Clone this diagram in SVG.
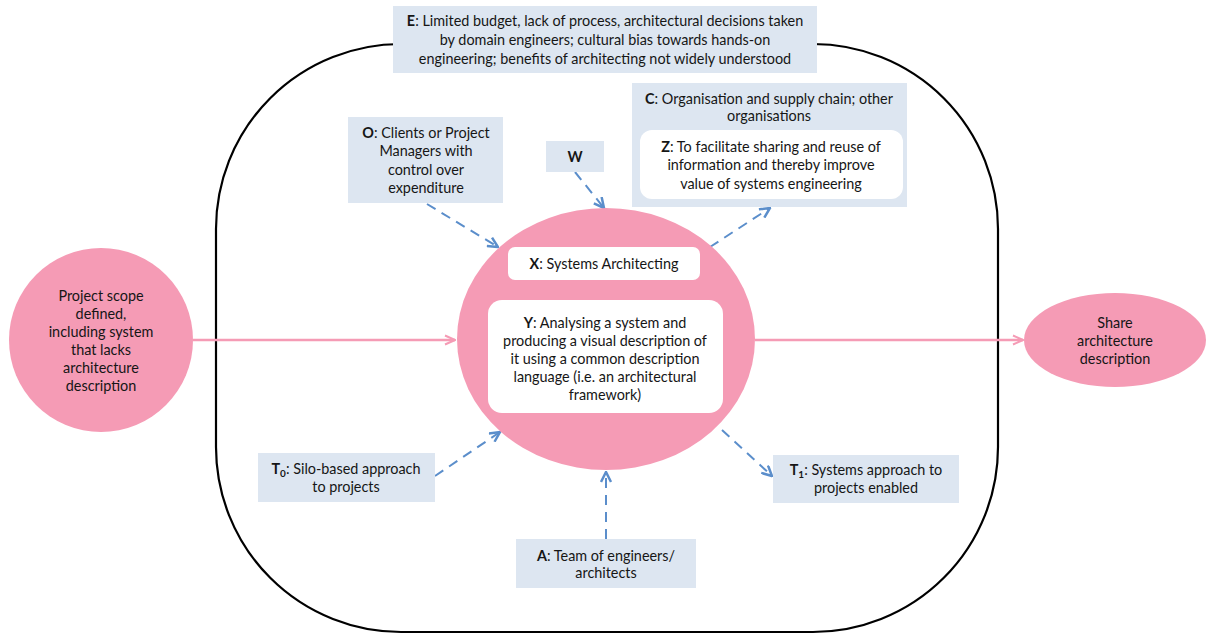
<svg xmlns="http://www.w3.org/2000/svg" width="1206" height="635" viewBox="0 0 1206 635">
  <defs>
    <style>
      text { font-family: Lato, "Open Sans", "Liberation Sans", sans-serif; font-size: 14.4px; fill: #161616; text-anchor: middle; }
      .b { font-weight: bold; }
      .box { fill: #DDE6F1; }
      .inner { fill: #FFFFFF; }
      .pink { fill: #F59BB5; }
      .dash { fill: none; stroke: #5B8ECB; stroke-width: 2; stroke-dasharray: 10 7; }
      .flow { fill: none; stroke: #F59BB5; stroke-width: 2.5; }
    </style>
    <marker id="blueHead" viewBox="0 0 12 12" refX="11" refY="6" markerWidth="12" markerHeight="12" markerUnits="userSpaceOnUse" orient="auto">
      <path d="M1,1 L11,6 L1,11" fill="none" stroke="#5B8ECB" stroke-width="2.5" stroke-linejoin="miter"/>
    </marker>
    <marker id="pinkHead" viewBox="0 0 12 12" refX="11" refY="6" markerWidth="12" markerHeight="12" markerUnits="userSpaceOnUse" orient="auto">
      <path d="M1,1.5 L11,6 L1,10.5" fill="none" stroke="#F59BB5" stroke-width="2"/>
    </marker>
  </defs>

  <rect width="1206" height="635" fill="#FFFFFF"/>

  <!-- system boundary -->
  <rect id="boundary" x="216" y="44" width="782" height="588" rx="185" ry="185" fill="none" stroke="#000000" stroke-width="2.2"/>

  <!-- connectors -->
  <g id="connectors">
    <line class="flow" x1="193" y1="340" x2="455" y2="340" marker-end="url(#pinkHead)"/>
    <line class="flow" x1="755" y1="340" x2="1023" y2="340" marker-end="url(#pinkHead)"/>
    <line class="dash" x1="427" y1="204" x2="498" y2="247" marker-end="url(#blueHead)"/>
    <line class="dash" x1="575" y1="172" x2="604" y2="208" marker-end="url(#blueHead)"/>
    <line class="dash" x1="710" y1="247" x2="770" y2="208" marker-end="url(#blueHead)"/>
    <line class="dash" x1="435" y1="476" x2="500" y2="432" marker-end="url(#blueHead)"/>
    <line class="dash" x1="722" y1="430" x2="772" y2="476" marker-end="url(#blueHead)"/>
    <line class="dash" x1="606" y1="539" x2="606" y2="472" marker-end="url(#blueHead)"/>
  </g>

  <!-- input -->
  <g id="input">
    <ellipse class="pink" cx="101" cy="340" rx="92" ry="92"/>
    <text x="101" y="301">Project scope</text>
    <text x="101" y="319">defined,</text>
    <text x="101" y="337">including system</text>
    <text x="101" y="355">that lacks</text>
    <text x="101" y="373">architecture</text>
    <text x="101" y="391">description</text>
  </g>

  <!-- output -->
  <g id="output">
    <ellipse class="pink" cx="1115" cy="340" rx="91" ry="47"/>
    <text x="1115" y="328">Share</text>
    <text x="1115" y="346">architecture</text>
    <text x="1115" y="364">description</text>
  </g>

  <!-- transformation -->
  <g id="process">
    <ellipse class="pink" cx="606" cy="339" rx="149" ry="131"/>
    <rect class="inner" x="508" y="247" width="192" height="33" rx="7"/>
    <text x="604" y="269"><tspan class="b">X</tspan>: Systems Architecting</text>
    <rect class="inner" x="488" y="300" width="235" height="113" rx="14"/>
    <text x="605" y="328"><tspan class="b">Y</tspan>: Analysing a system and</text>
    <text x="605" y="346">producing a visual description of</text>
    <text x="605" y="364">it using a common description</text>
    <text x="605" y="382">language (i.e. an architectural</text>
    <text x="605" y="400">framework)</text>
  </g>

  <!-- environment -->
  <g id="environment">
    <rect class="box" x="393" y="6" width="424" height="67"/>
    <text x="605" y="26"><tspan class="b">E</tspan>: Limited budget, lack of process, architectural decisions taken</text>
    <text x="605" y="45">by domain engineers; cultural bias towards hands-on</text>
    <text x="605" y="64">engineering; benefits of architecting not widely understood</text>
  </g>

  <!-- owners -->
  <g id="owners">
    <rect class="box" x="348" y="117" width="155" height="86"/>
    <text x="426" y="138"><tspan class="b">O</tspan>:  Clients or Project</text>
    <text x="426" y="156">Managers with</text>
    <text x="426" y="175">control over</text>
    <text x="426" y="193">expenditure</text>
  </g>

  <!-- worldview -->
  <g id="worldview">
    <rect class="box" x="546" y="141" width="58" height="31"/>
    <text class="b" x="575" y="162">W</text>
  </g>

  <!-- customers and purpose -->
  <g id="customers">
    <rect class="box" x="632" y="83" width="275" height="124"/>
    <text x="769" y="104"><tspan class="b">C</tspan>: Organisation and supply chain; other</text>
    <text x="769" y="121">organisations</text>
    <rect class="inner" x="640" y="130" width="263" height="69" rx="12"/>
    <text x="771" y="152"><tspan class="b">Z</tspan>: To facilitate sharing and reuse of</text>
    <text x="771" y="170">information and thereby improve</text>
    <text x="771" y="189">value of systems engineering</text>
  </g>

  <!-- initial state -->
  <g id="t0">
    <rect class="box" x="258" y="453" width="177" height="49"/>
    <text x="346" y="474"><tspan class="b">T</tspan><tspan class="b" font-size="10" dy="3">0</tspan><tspan dy="-3">: Silo-based approach</tspan></text>
    <text x="346" y="492">to projects</text>
  </g>

  <!-- final state -->
  <g id="t1">
    <rect class="box" x="773" y="455" width="186" height="48"/>
    <text x="866" y="475"><tspan class="b">T</tspan><tspan class="b" font-size="10" dy="3">1</tspan><tspan dy="-3">: Systems approach to</tspan></text>
    <text x="866" y="493">projects enabled</text>
  </g>

  <!-- actors -->
  <g id="actors">
    <rect class="box" x="516" y="539" width="180" height="49"/>
    <text x="606" y="561"><tspan class="b">A</tspan>: Team of engineers/</text>
    <text x="606" y="578">architects</text>
  </g>
</svg>
